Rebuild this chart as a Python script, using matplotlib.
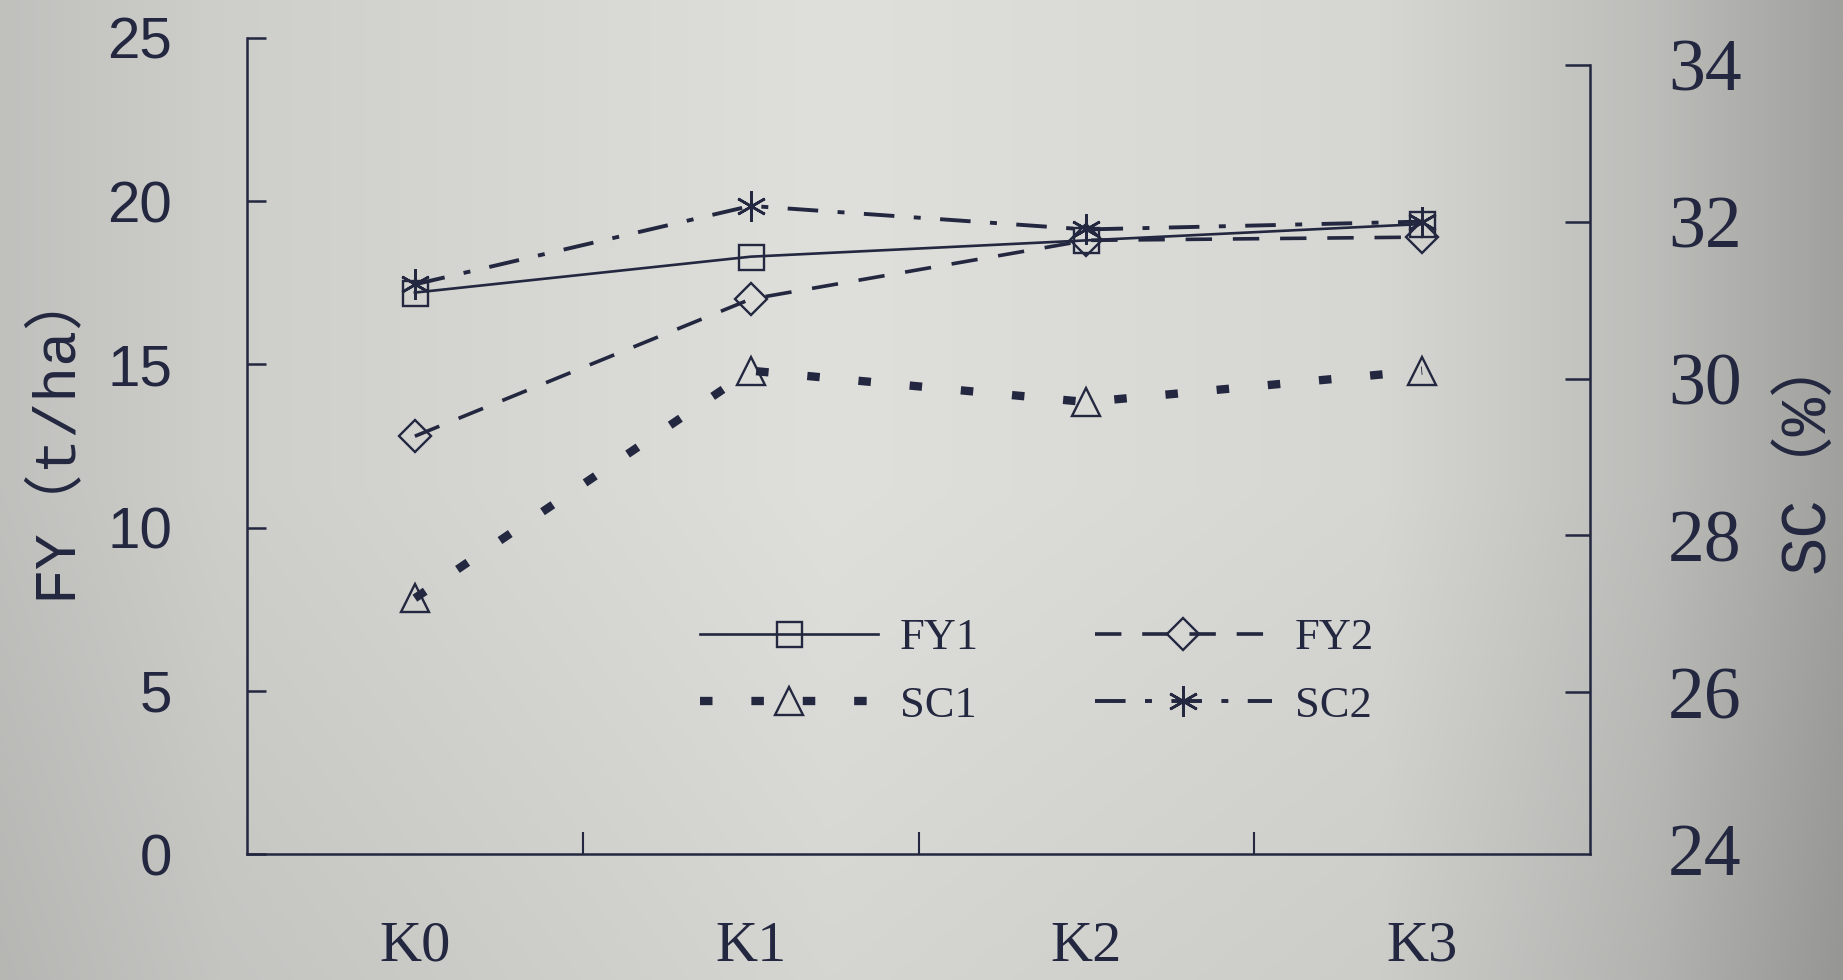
import numpy as np
import matplotlib
matplotlib.use('Agg')
import matplotlib.pyplot as plt

plt.rcParams['lines.scale_dashes'] = False

categories = ['K0', 'K1', 'K2', 'K3']
fy1 = [17.2, 18.3, 18.8, 19.3]
fy2 = [12.8, 17.0, 18.8, 18.9]
sc1 = [27.2, 30.1, 29.7, 30.1]
sc2 = [31.2, 32.2, 31.9, 32.0]
fy_ticks = [0, 5, 10, 15, 20, 25]
sc_ticks = [24, 26, 28, 30, 32, 34]

ink = '#23273f'
W, H = 1843, 980
fig = plt.figure(figsize=(W / 100, H / 100), dpi=100)

# photographic grey background with soft vignette
bg = fig.add_axes([0, 0, 1, 1], zorder=-10)
xs = np.linspace(0, 1, 400)
ys = np.linspace(0, 1, 200)
prof_x = np.interp(xs, [0, 0.12, 0.45, 0.75, 0.9, 1.0], [192, 206, 223, 214, 188, 160])
prof_y = np.interp(ys, [0, 0.5, 1.0], [0, 0, -10])
grid = (prof_x[None, :] + prof_y[:, None]) / 255.0
img = np.dstack([grid, grid, grid * 0.985])
bg.imshow(img, aspect='auto', extent=[0, 1, 0, 1], interpolation='bilinear')
bg.axis('off')

ax = fig.add_axes([247 / W, 1 - 854 / H, 1343 / W, 816 / H])
ax.set_facecolor('none')
ax2 = ax.twinx()

x = np.arange(len(categories)) + 0.5

ax.plot(x, fy1, color=ink, lw=1.9, marker='s', ms=18, mfc='none', mec=ink, mew=1.7, label='FY1')
ax.plot(x, fy2, color=ink, lw=2.6, ls=(0, (19, 15)), marker='D', ms=16, mfc='none',
        mec=ink, mew=1.7, label='FY2')
ax2.plot(x, sc1, color=ink, lw=6.0, ls=(0, (9, 28)), marker='^', ms=20, mfc='none',
         mec=ink, mew=1.7, label='SC1')
ax2.plot(x, sc2, color=ink, lw=2.8, ls=(0, (22, 14, 5, 14)), marker=(6, 2, 0), ms=22,
         mec=ink, mew=1.9, label='SC2')

ax.set_xlim(0, 4)
ax.set_ylim(0, 25)
ax2.set_ylim(23.94, 34.34)

for a in (ax, ax2):
    a.spines['top'].set_visible(False)
    for s in a.spines.values():
        s.set_color(ink)
        s.set_linewidth(1.8)
ax.spines['right'].set_visible(False)
ax2.spines['left'].set_visible(False)
ax2.spines['bottom'].set_visible(False)
ax2.spines['right'].set_bounds(23.94, 34)

ax.set_yticks(fy_ticks)
ax.set_yticklabels([str(t) for t in fy_ticks], fontfamily='Liberation Sans', fontsize=42)
ax.tick_params(axis='y', direction='in', length=14, width=1.8, color=ink, labelcolor=ink, pad=54)

ax2.set_yticks(sc_ticks)
ax2.set_yticklabels([str(t) for t in sc_ticks], fontfamily='Liberation Serif', fontsize=53)
ax2.tick_params(axis='y', direction='in', length=18, width=1.8, color=ink, labelcolor=ink, pad=56)
ax2.yaxis.get_major_ticks()[0].tick2line.set_visible(False)

ax.set_xticks([1, 2, 3])
ax.set_xticklabels([])
ax.tick_params(axis='x', which='major', direction='in', length=16, width=1.5, color=ink)
ax.set_xticks(x, minor=True)
ax.set_xticklabels(categories, minor=True, fontfamily='Liberation Serif', fontsize=42)
ax.tick_params(axis='x', which='minor', length=0, labelcolor=ink, pad=48)

fig.text(53 / W, 1 - 432 / H, 'FY（t/ha）', rotation=90, ha='center', va='center',
         fontsize=43, color=ink, family=['Liberation Mono', 'Noto Sans CJK SC'])
fig.text(1806 / W, 1 - 452 / H, 'SC（%）', rotation=90, ha='center', va='center',
         fontsize=46, color=ink, family=['Liberation Mono', 'Noto Sans CJK SC'])

h1, lab1 = ax.get_legend_handles_labels()
h2, lab2 = ax2.get_legend_handles_labels()
handles = [h1[0], h2[0], h1[1], h2[1]]
labels = [lab1[0], lab2[0], lab1[1], lab2[1]]
leg = ax.legend(handles, labels, ncol=2, loc='upper left',
                bbox_to_anchor=(700 / W, 1 - 618 / H), bbox_transform=fig.transFigure,
                frameon=False, handlelength=4.0, handletextpad=0.5, columnspacing=2.6,
                labelspacing=0.62, borderpad=0, borderaxespad=0,
                prop={'family': 'Liberation Serif', 'size': 32})
for t in leg.get_texts():
    t.set_color(ink)

fig.savefig('out.png', dpi=100)
